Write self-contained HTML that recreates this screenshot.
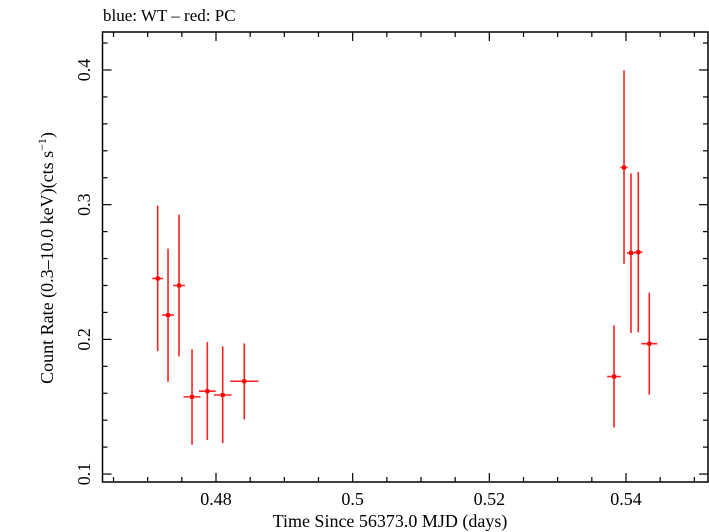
<!DOCTYPE html>
<html><head><meta charset="utf-8"><style>
html,body{margin:0;padding:0;background:#fff;}
svg{display:block;font-family:"Liberation Serif",serif;}
</style></head><body>
<svg id="chart" width="709" height="532">
<text x="103" y="21" font-size="17">blue: WT – red: PC</text>
<g id="axes"></g>
<g id="marks"></g>
<text x="390" y="527" font-size="18" text-anchor="middle">Time Since 56373.0 MJD (days)</text>
<text transform="translate(53,258) rotate(-90)" font-size="18" text-anchor="middle">Count Rate (0.3–10.0 keV)(cts s<tspan font-size="12" dy="-7">−1</tspan><tspan dy="7">)</tspan></text>
</svg>
<script>
const times=[0.47147,0.47298,0.47459,0.47649,0.47873,0.48098,0.48414,0.53971,0.54073,0.54180,0.53825,0.54341];
const timeErr=[0.0008,0.00086,0.00086,0.00124,0.00122,0.0013,0.00207,0.00053,0.00059,0.00059,0.001,0.00117];
const rates=[0.2452,0.2180,0.2400,0.1573,0.1615,0.1587,0.1689,0.3276,0.2642,0.2647,0.1724,0.1968];
const rateHi=[0.2993,0.2674,0.2926,0.1926,0.1980,0.1948,0.1970,0.3998,0.3232,0.3243,0.2104,0.2346];
const rateLo=[0.1913,0.1684,0.1874,0.1217,0.1252,0.1230,0.1405,0.2561,0.2047,0.2052,0.1346,0.1590];
const xTicks=[0.48,0.5,0.52,0.54];
const xTickLabels=["0.48","0.5","0.52","0.54"];
const yTicks=[0.1,0.2,0.3,0.4];
const yTickLabels=["0.1","0.2","0.3","0.4"];

const L=102.5,R=708,T=32,B=482;
const x0=0.46339,x1=0.5520,y0=0.0941,y1=0.4282;
const sx=v=>L+(v-x0)/(x1-x0)*(R-L);
const sy=v=>B-(v-y0)/(y1-y0)*(B-T);
const NS="http://www.w3.org/2000/svg";
function mk(tag,attrs,parent){const e=document.createElementNS(NS,tag);for(const k in attrs)e.setAttribute(k,attrs[k]);parent.appendChild(e);return e;}
const axes=document.getElementById('axes'),marks=document.getElementById('marks');
const frame=mk('rect',{x:L,y:T,width:R-L,height:B-T,fill:'none',stroke:'#000','stroke-width':1.5},axes);


// x ticks
for(let v=0.465;v<=x1;v+=0.005){
  const vv=Math.round(v*1000)/1000;const major=Math.abs(vv*50-Math.round(vv*50))<1e-6;
  const len=major?9:5;const px=sx(vv);
  const t1=mk('line',{x1:px,x2:px,y1:B,y2:B-len,stroke:'#000','stroke-width':1.2},axes);
  
  
  const t2=mk('line',{x1:px,x2:px,y1:T,y2:T+len,stroke:'#000','stroke-width':1.2},axes);
  
  
}
xTicks.forEach((v,i)=>{const t=mk('text',{x:sx(v),y:505,'font-size':18,'text-anchor':'middle'},axes);t.textContent=xTickLabels[i];
  
  });
// y ticks
for(let v=0.1;v<=y1;v+=0.02){
  const vv=Math.round(v*100)/100;const major=Math.abs(vv*10-Math.round(vv*10))<1e-6;
  const len=major?9:5;const py=sy(vv);
  const t1=mk('line',{x1:L,x2:L+len,y1:py,y2:py,stroke:'#000','stroke-width':1.2},axes);
  
  
  const t2=mk('line',{x1:R,x2:R-len,y1:py,y2:py,stroke:'#000','stroke-width':1.2},axes);
  
  
}
yTicks.forEach((v,i)=>{const t=mk('text',{transform:`translate(90,${sy(v)}) rotate(-90)`,'font-size':18,'text-anchor':'middle'},axes);t.textContent=yTickLabels[i];
  
  });
// data
times.forEach((t,i)=>{
  const g=mk('g',{stroke:'#ff2020','stroke-width':1.6},marks);
  
  
  mk('line',{x1:sx(t),x2:sx(t),y1:sy(rateLo[i]),y2:sy(rateHi[i])},g);
  mk('line',{x1:sx(t-timeErr[i]),x2:sx(t+timeErr[i]),y1:sy(rates[i]),y2:sy(rates[i])},g);
  mk('rect',{x:sx(t)-2,y:sy(rates[i])-2,width:4,height:4,fill:'#ff0000',stroke:'none'},g);
});
</script>
</body></html>
